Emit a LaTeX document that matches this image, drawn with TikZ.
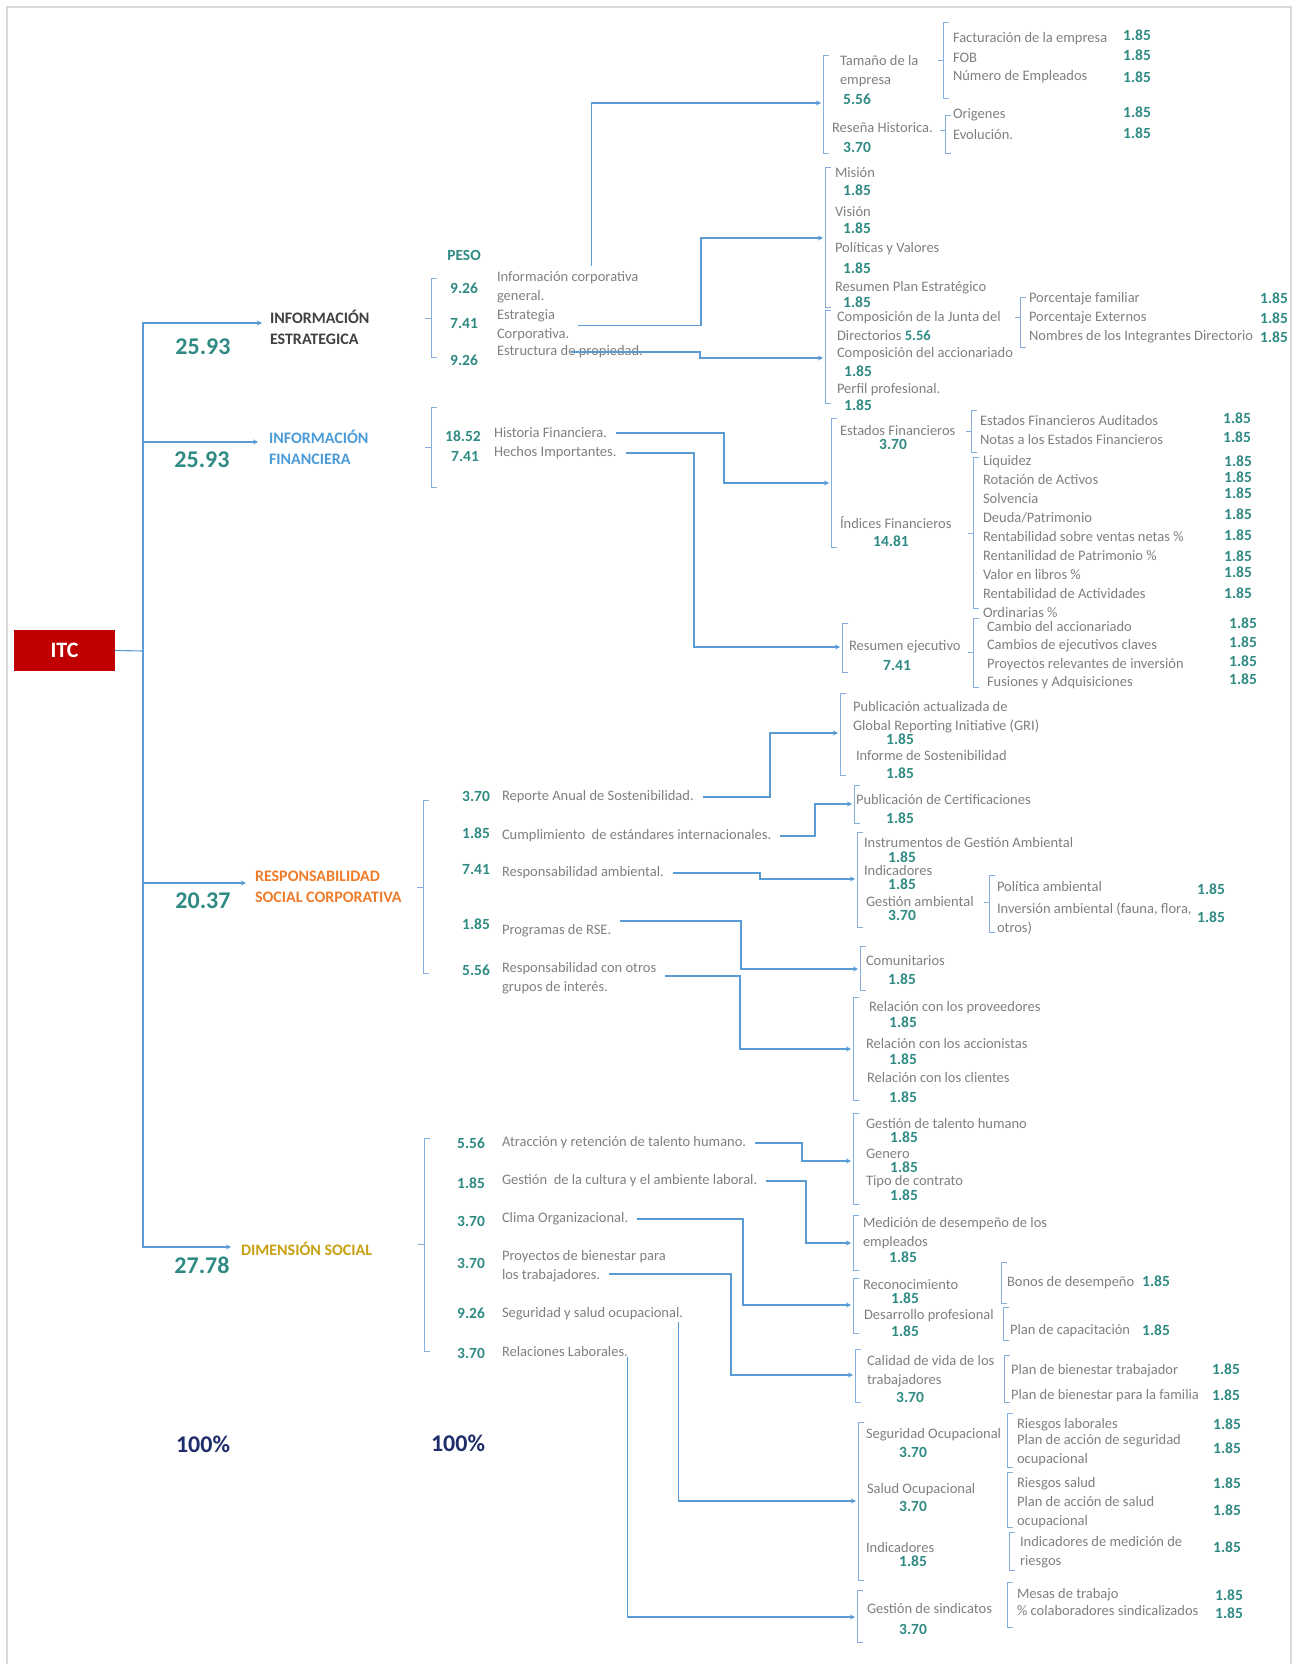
\documentclass[tikz,border=0pt]{standalone}
\usepackage{fontspec}
\setmainfont{Carlito}
\usetikzlibrary{arrows.meta}
\definecolor{lineblue}{HTML}{5B9BD5}
\definecolor{brkblue}{HTML}{86AEDC}
\definecolor{txtgray}{HTML}{7F7F7F}
\definecolor{valteal}{HTML}{2F8A84}
\definecolor{hdark}{HTML}{404040}
\definecolor{hfin}{HTML}{4A9BD8}
\definecolor{hrsc}{HTML}{F07C2A}
\definecolor{hds}{HTML}{C8A012}
\definecolor{navy}{HTML}{1F2D6B}
\definecolor{itcred}{HTML}{C00000}
\definecolor{framegray}{HTML}{D9D9D9}

\begin{document}
\begin{tikzpicture}[x=1pt, y=-1pt,
  every node/.style={inner sep=0pt, outer sep=0pt},
  txt/.style={anchor=west, align=left, text=txtgray, font=\fontsize{14.5}{19}\selectfont},
  val/.style={text=valteal, font=\bfseries\fontsize{15.5}{18}\selectfont},
  big/.style={text=valteal, font=\bfseries\fontsize{24}{28}\selectfont},
  total/.style={text=navy, font=\bfseries\fontsize{24}{28}\selectfont},
  head/.style={anchor=west, align=left, font=\bfseries\fontsize{16}{21}\selectfont},
  brk/.style={draw=brkblue, line width=0.9pt},
  spine/.style={draw=lineblue, line width=1.1pt},
  link/.style={spine, -{Stealth[length=5pt,width=5pt]}},
  linkt/.style={link, shorten <=9pt}]
\useasboundingbox (0,0) rectangle (1296,1664);
\draw[framegray, line width=2pt] (7,1664) -- (7,7) -- (1291,7) -- (1291,1664);

\node[fill=itcred, text=white, font=\bfseries\fontsize{22}{24}\selectfont, minimum width=101pt, minimum height=41pt] (itc) at (64.5,650.5) {ITC};

\node[head, text=hdark] (ie) at (270,327) {INFORMACIÓN\\ESTRATEGICA};
\node[head, text=hfin] (ifi) at (269,447) {INFORMACIÓN\\FINANCIERA};
\node[head, text=hrsc] (rsc) at (255,887) {RESPONSABILIDAD\\SOCIAL CORPORATIVA};
\node[head, text=hds] (ds) at (241,1249) {DIMENSIÓN SOCIAL};

\node[big] (pie) at (203,347) {25.93};
\node[big] (pif) at (202,460) {25.93};
\node[big] (prsc) at (203,901) {20.37};
\node[big] (pds) at (202,1265) {27.78};
\node[total] (tot1) at (203,1444) {100\%};
\node[total] (tot2) at (458,1443) {100\%};
\node[val] (peso) at (464,255) {PESO};

\coordinate (sp) at (143,651);
\coordinate (ie-in) at (262,323);
\coordinate (ifi-in) at (258,442);
\coordinate (rsc-in) at (246,883);
\coordinate (ds-in) at (231,1247);

% informacion estrategica
\node[val] (w1) at (464,288) {9.26};
\node[txt] (t1) at (497,287) {Información corporativa\\general.};
\node[val] (w2) at (464,324) {7.41};
\node[txt] (t2) at (497,325.5) {Estrategia\\Corporativa.};
\node[val] (w3) at (464,360) {9.26};
\node[txt] (t3) at (497,352) {Estructura de propiedad.};

\node[txt] (tam) at (840,71) {Tamaño de la\\empresa};
\node[val] (tamv) at (857,99) {5.56};
\node[txt] (res) at (832,128) {Reseña Historica.};
\node[val] (resv) at (857,147) {3.70};
\node[txt] (fac) at (953,39) {Facturación de la empresa};
\node[txt] (fob) at (953,58) {FOB};
\node[txt] (nem) at (953,77) {Número de Empleados};
\node[val] (facv) at (1137,35) {1.85};
\node[val] (fobv) at (1137,55) {1.85};
\node[val] (nemv) at (1137,77) {1.85};
\node[txt] (ori) at (953,115) {Origenes};
\node[txt] (evo) at (953,135) {Evolución.};
\node[val] (oriv) at (1137,112) {1.85};
\node[val] (evov) at (1137,133) {1.85};

\node[txt] (mis) at (835,173) {Misión};
\node[val] (misv) at (857,190) {1.85};
\node[txt] (vis) at (835,212) {Visión};
\node[val] (visv) at (857,228) {1.85};
\node[txt] (pol) at (835,249) {Políticas y Valores};
\node[val] (polv) at (857,268) {1.85};
\node[txt] (rpe) at (835,288) {Resumen Plan Estratégico};
\node[val] (rpev) at (857,302) {1.85};
\node[txt] (cjd) at (837,326) {Composición de la Junta del\\Directorios {\color{valteal}\bfseries 5.56}};
\node[txt] (cac) at (837,354) {Composición del accionariado};
\node[val] (cacv) at (858,371) {1.85};
\node[txt] (ppr) at (837,390) {Perfil profesional.};
\node[val] (pprv) at (858,405) {1.85};
\node[txt] (pfa) at (1029,299) {Porcentaje familiar};
\node[txt] (pex) at (1029,318) {Porcentaje Externos};
\node[txt] (nid) at (1029,337) {Nombres de los Integrantes Directorio};
\node[val] (pfav) at (1274,298) {1.85};
\node[val] (pexv) at (1274,318) {1.85};
\node[val] (nidv) at (1274,337) {1.85};

% informacion financiera
\node[val] (w4) at (463,436) {18.52};
\node[txt] (h1) at (494,433) {Historia Financiera.};
\node[val] (w5) at (465,457) {7.41};
\node[txt] (h2) at (494,453) {Hechos Importantes.};

\node[txt] (esf) at (840,431) {Estados Financieros};
\node[val] (esfv) at (893,444) {3.70};
\node[txt] (inf) at (840,522) {Índices Financieros};
\node[val] (infv) at (891,541) {14.81};
\node[txt] (efa) at (980,421) {Estados Financieros Auditados};
\node[txt] (nef) at (980,440) {Notas a los Estados Financieros};
\node[val] (efav) at (1237,418) {1.85};
\node[val] (nefv) at (1237,437) {1.85};
\node[txt] (liq) at (983,462) {Liquidez};
\node[txt] (rot) at (983,480) {Rotación de Activos};
\node[txt] (sol) at (983,499) {Solvencia};
\node[txt] (deu) at (983,518) {Deuda/Patrimonio};
\node[txt] (rsv) at (983,537) {Rentabilidad sobre ventas netas \%};
\node[txt] (rpa) at (983,556) {Rentanilidad de Patrimonio \%};
\node[txt] (vlb) at (983,575) {Valor en libros \%};
\node[txt] (rao) at (983,603.5) {Rentabilidad de Actividades\\Ordinarias \%};
\node[val] (liqv) at (1238,461) {1.85};
\node[val] (rotv) at (1238,477) {1.85};
\node[val] (solv) at (1238,493) {1.85};
\node[val] (deuv) at (1238,514) {1.85};
\node[val] (rsvv) at (1238,535) {1.85};
\node[val] (rpav) at (1238,556) {1.85};
\node[val] (vlbv) at (1238,572) {1.85};
\node[val] (raov) at (1238,593) {1.85};
\node[txt] (rej) at (849,647) {Resumen ejecutivo};
\node[val] (rejv) at (897,666) {7.41};
\node[txt] (cda) at (987,627) {Cambio del accionariado};
\node[txt] (cec) at (987,646) {Cambios de ejecutivos claves};
\node[txt] (pri) at (987,665) {Proyectos relevantes de inversión};
\node[txt] (fya) at (987,683) {Fusiones y Adquisiciones};
\node[val] (cdav) at (1243,623) {1.85};
\node[val] (cecv) at (1243,642) {1.85};
\node[val] (priv) at (1243,661) {1.85};
\node[val] (fyav) at (1243,679) {1.85};

% responsabilidad social corporativa
\node[val] (w6) at (476,796) {3.70};
\node[txt] (r1) at (502,797) {Reporte Anual de Sostenibilidad.};
\node[val] (w7) at (476,833) {1.85};
\node[txt] (r2) at (502,836) {Cumplimiento~ de estándares internacionales.};
\node[val] (w8) at (476,870) {7.41};
\node[txt] (r3) at (502,873) {Responsabilidad ambiental.};
\node[val] (w9) at (476,924) {1.85};
\node[txt] (r4) at (502,931) {Programas de RSE.};
\node[val] (w10) at (476,970) {5.56};
\node[txt] (r5) at (502,978) {Responsabilidad con otros\\grupos de interés.};

\node[txt] (gri) at (853,717.5) {Publicación actualizada de\\Global Reporting Initiative (GRI)};
\node[val] (griv) at (900,739) {1.85};
\node[txt] (ids) at (856,756) {Informe de Sostenibilidad};
\node[val] (idsv) at (900,773) {1.85};
\node[txt] (pce) at (856,800) {Publicación de Certificaciones};
\node[val] (pcev) at (900,818) {1.85};
\node[txt] (iga) at (864,843) {Instrumentos de Gestión Ambiental};
\node[val] (igav) at (902,857) {1.85};
\node[txt] (ind) at (864,871) {Indicadores};
\node[val] (indv) at (902,884) {1.85};
\node[txt] (gam) at (866,902) {Gestión ambiental};
\node[val] (gamv) at (902,915) {3.70};
\node[txt] (pam) at (997,887) {Política ambiental};
\node[txt] (iam) at (997,919) {Inversión ambiental (fauna, flora,\\otros)};
\node[val] (pamv) at (1211,889) {1.85};
\node[val] (iamv) at (1211,917) {1.85};
\node[txt] (cmu) at (866,961) {Comunitarios};
\node[val] (cmuv) at (902,979) {1.85};
\node[txt] (rpv) at (869,1008) {Relación con los proveedores};
\node[val] (rpvv) at (903,1022) {1.85};
\node[txt] (rac) at (866,1044) {Relación con los accionistas};
\node[val] (racv) at (903,1059) {1.85};
\node[txt] (rcl) at (867,1078) {Relación con los clientes};
\node[val] (rclv) at (903,1097) {1.85};

% dimension social
\node[val] (w11) at (471,1143) {5.56};
\node[txt] (d1) at (502,1143) {Atracción y retención de talento humano.};
\node[val] (w12) at (471,1183) {1.85};
\node[txt] (d2) at (502,1181) {Gestión~ de la cultura y el ambiente laboral.};
\node[val] (w13) at (471,1221) {3.70};
\node[txt] (d3) at (502,1219) {Clima Organizacional.};
\node[val] (w14) at (471,1263) {3.70};
\node[txt] (d4) at (502,1257) {Proyectos de bienestar para};
\node[txt] (d4b) at (502,1276) {los trabajadores.};
\node[val] (w15) at (471,1313) {9.26};
\node[txt] (d5) at (502,1314) {Seguridad y salud ocupacional.};
\node[val] (w16) at (471,1353) {3.70};
\node[txt] (d6) at (502,1352) {Relaciones Laborales.};

\node[txt] (gth) at (866,1124) {Gestión de talento humano};
\node[val] (gthv) at (904,1137) {1.85};
\node[txt] (gen) at (866,1154) {Genero};
\node[val] (genv) at (904,1167) {1.85};
\node[txt] (tco) at (866,1182) {Tipo de contrato};
\node[val] (tcov) at (904,1195) {1.85};
\node[txt] (mde) at (863,1233) {Medición de desempeño de los\\empleados};
\node[val] (mdev) at (903,1257) {1.85};
\node[txt] (rco) at (863,1285) {Reconocimiento};
\node[val] (rcov) at (905,1298) {1.85};
\node[txt] (dpr) at (864,1316) {Desarrollo profesional};
\node[val] (dprv) at (905,1331) {1.85};
\node[txt] (bde) at (1007,1283) {Bonos de desempeño};
\node[val] (bdev) at (1156,1281) {1.85};
\node[txt] (pca) at (1010,1331) {Plan de capacitación};
\node[val] (pcav) at (1156,1330) {1.85};
\node[txt] (cvt) at (867,1371) {Calidad de vida de los\\trabajadores};
\node[val] (cvtv) at (910,1397) {3.70};
\node[txt] (pbt) at (1011,1371) {Plan de bienestar trabajador};
\node[txt] (pbf) at (1011,1396) {Plan de bienestar para la familia};
\node[val] (pbtv) at (1226,1369) {1.85};
\node[val] (pbfv) at (1226,1395) {1.85};
\node[txt] (soc) at (866,1435) {Seguridad Ocupacional};
\node[val] (socv) at (913,1452) {3.70};
\node[txt] (sal) at (867,1490) {Salud Ocupacional};
\node[val] (salv) at (913,1506) {3.70};
\node[txt] (ind2) at (866,1547) {Indicadores};
\node[val] (ind2v) at (913,1561) {1.85};
\node[txt] (rla) at (1017,1425) {Riesgos laborales};
\node[txt] (pas) at (1017,1450.5) {Plan de acción de seguridad\\ocupacional};
\node[val] (rlav) at (1227,1424) {1.85};
\node[val] (pasv) at (1227,1448) {1.85};
\node[txt] (rsa) at (1017,1484) {Riesgos salud};
\node[txt] (psa) at (1017,1512.5) {Plan de acción de salud\\ocupacional};
\node[val] (rsav) at (1227,1483) {1.85};
\node[val] (psav) at (1227,1510) {1.85};
\node[txt] (imr) at (1020,1552.5) {Indicadores de medición de\\riesgos};
\node[val] (imrv) at (1227,1547) {1.85};
\node[txt] (gsi) at (867,1608) {Gestión de sindicatos};
\node[val] (gsiv) at (913,1629) {3.70};
\node[txt] (mtr) at (1017,1595) {Mesas de trabajo};
\node[txt] (pcs) at (1017,1611) {\% colaboradores sindicalizados};
\node[val] (mtrv) at (1229,1595) {1.85};
\node[val] (pcsv) at (1229,1613) {1.85};

% arrow targets
\coordinate (tam-in) at (821,103);
\coordinate (mis-in) at (823,238);
\coordinate (com-in) at (823,358);
\coordinate (est-in) at (829,483);
\coordinate (rej-in) at (840,647);
\coordinate (gri-in) at (838,733);
\coordinate (cer-in) at (852,804);
\coordinate (amb-in) at (855,879);
\coordinate (cmu-in) at (858,969);
\coordinate (rel-in) at (851,1049);
\coordinate (tal-in) at (851,1161);
\coordinate (med-in) at (851,1243);
\coordinate (rec-in) at (851,1305);
\coordinate (cal-in) at (853,1375);
\coordinate (seg-in) at (856,1501);
\coordinate (sin-in) at (855,1617);

% connectors
\draw[spine] (itc.east) -- (sp);
\draw[link] (sp) |- (ie-in);
\draw[link] (sp) |- (ifi-in);
\draw[link] (sp) |- (rsc-in);
\draw[link] (sp) |- (ds-in);

\draw[link] ([xshift=24pt,yshift=5pt]t1.north) |- (tam-in);
\draw[linkt] (t2.east) -| (701,238) -- (mis-in);
\draw[link] ([xshift=-72pt]t3.east) -| (700,358) -- (com-in);
\draw[linkt] (h1.east) -| (724,483) -- (est-in);
\draw[linkt] (h2.east) -| (694,647) -- (rej-in);
\draw[linkt] (r1.east) -| (770,733) -- (gri-in);
\draw[linkt] (r2.east) -| (815,804) -- (cer-in);
\draw[linkt] (r3.east) -| (760,879) -- (amb-in);
\draw[linkt] ([yshift=10pt]r4.east) -| (741,969) -- (cmu-in);
\draw[linkt] ([yshift=2pt]r5.east) -| (740,1049) -- (rel-in);
\draw[linkt] (d1.east) -| (802,1161) -- (tal-in);
\draw[linkt] (d2.east) -| (806,1243) -- (med-in);
\draw[linkt] (d3.east) -| (743,1305) -- (rec-in);
\draw[linkt] ([yshift=2pt]d4b.east) -| (731,1375) -- (cal-in);
\draw[link] ([xshift=-5pt,yshift=-8pt]d5.east) |- (seg-in);
\draw[link] ([yshift=-5pt]d6.east) |- (sin-in);

% brackets
\draw[brk] (437,278) -| (431,357) -- ++(6,0) (431,318) -- ++(-6,0);
\draw[brk] (437,407) -| (431,487) -- ++(6,0) (431,447) -- ++(-6,0);
\draw[brk] (429,800) -| (423,973) -- ++(6,0) (423,887) -- ++(-6,0);
\draw[brk] (430,1138) -| (424,1351) -- ++(6,0) (424,1244) -- ++(-6,0);

\draw[brk] (829,55) -| (823,153) -- ++(6,0);
\draw[brk] (949,22) -| (943,98) -- ++(6,0) (943,60) -- ++(-5,0);
\draw[brk] (951,115) -| (945,153) -- ++(6,0) (945,130) -- ++(-5,0);
\draw[brk] (831,167) -| (825,307) -- ++(6,0);
\draw[brk] (831,310) -| (825,403) -- ++(6,0);
\draw[brk] (1026,297) -| (1020,347) -- ++(6,0) (1020,317) -- ++(-5,0);

\draw[brk] (837,418) -| (831,547) -- ++(6,0);
\draw[brk] (977,410) -| (971,452) -- ++(6,0) (971,431) -- ++(-5,0);
\draw[brk] (979,457) -| (973,608) -- ++(6,0) (973,533) -- ++(-5,0);
\draw[brk] (848,623) -| (842,672) -- ++(6,0);
\draw[brk] (979,618) -| (973,687) -- ++(6,0) (973,652) -- ++(-5,0);

\draw[brk] (846,693) -| (840,775) -- ++(6,0);
\draw[brk] (860,785) -| (854,823) -- ++(6,0);
\draw[brk] (863,832) -| (857,927) -- ++(6,0);
\draw[brk] (995,875) -| (989,932) -- ++(6,0) (989,902) -- ++(-5,0);
\draw[brk] (866,946) -| (860,990) -- ++(6,0);
\draw[brk] (859,997) -| (853,1100) -- ++(6,0);

\draw[brk] (859,1113) -| (853,1204) -- ++(6,0);
\draw[brk] (859,1215) -| (853,1270) -- ++(6,0);
\draw[brk] (859,1278) -| (853,1333) -- ++(6,0);
\draw[brk] (1007,1262) -| (1001,1303) -- ++(6,0);
\draw[brk] (1009,1307) -| (1003,1340) -- ++(6,0);
\draw[brk] (861,1349) -| (855,1402) -- ++(6,0);
\draw[brk] (1010,1355) -| (1004,1402) -- ++(6,0);
\draw[brk] (864,1422) -| (858,1580) -- ++(6,0);
\draw[brk] (1013,1413) -| (1007,1467) -- ++(6,0);
\draw[brk] (1013,1472) -| (1007,1527) -- ++(6,0);
\draw[brk] (1015,1532) -| (1009,1570) -- ++(6,0);
\draw[brk] (863,1590) -| (857,1642) -- ++(6,0);
\draw[brk] (1013,1582) -| (1007,1627) -- ++(6,0);
\end{tikzpicture}
\end{document}
